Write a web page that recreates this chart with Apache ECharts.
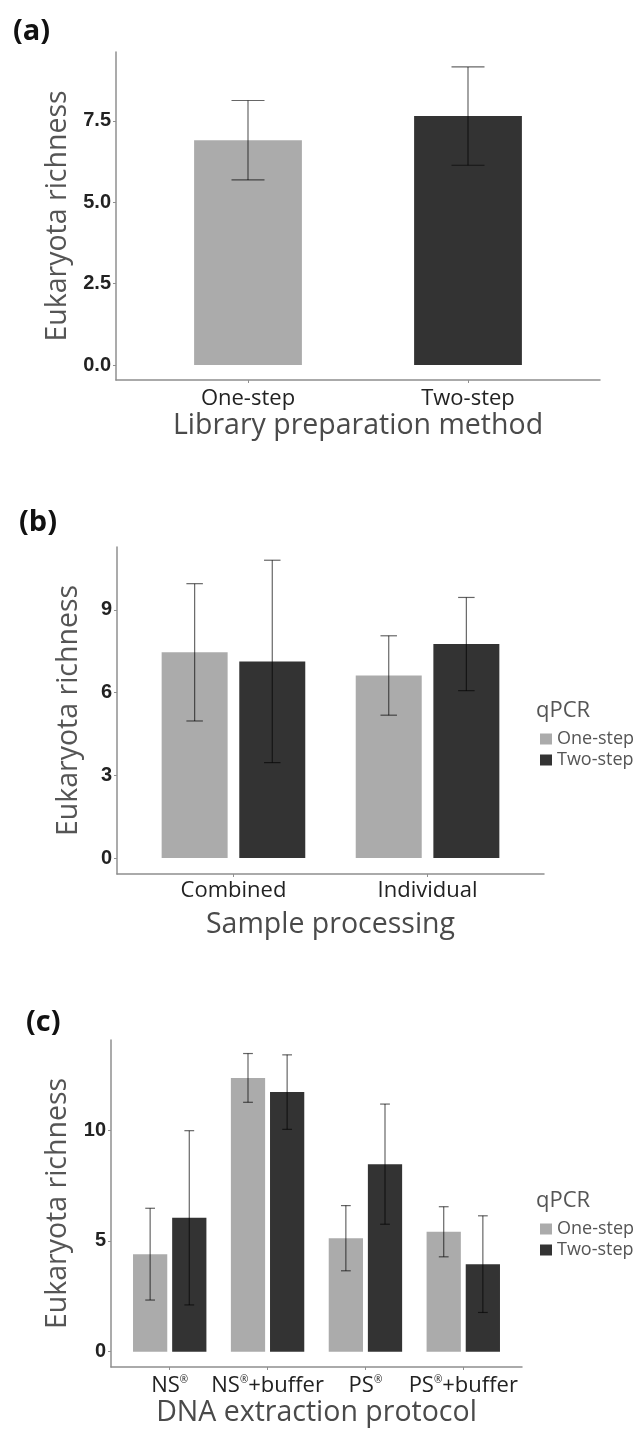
<!DOCTYPE html>
<html><head><meta charset="utf-8">
<script src="https://cdn.jsdelivr.net/npm/echarts@6/dist/echarts.min.js"></script>
<style>html,body{margin:0;padding:0;background:#fff}#c{width:637px;height:1430px}</style>
</head><body><div id="c"></div>
<script>
// ---- Panel (a): Library preparation method ----
const catsA = ['One-step', 'Two-step'];
const meanA = [6.91, 7.65];
const errA = [1.22, 1.51];
const yTicksA = [0, 2.5, 5, 7.5];
// ---- Panel (b): Sample processing ----
const catsB = ['Combined', 'Individual'];
const oneB = [7.46, 6.62];
const oneErrB = [2.49, 1.44];
const twoB = [7.13, 7.76];
const twoErrB = [3.67, 1.69];
const yTicksB = [0, 3, 6, 9];
// ---- Panel (c): DNA extraction protocol ----
const catsC = ['NS®', 'NS®+buffer', 'PS®', 'PS®+buffer'];
const oneC = [4.40, 12.35, 5.12, 5.41];
const oneErrC = [2.07, 1.10, 1.47, 1.13];
const twoC = [6.04, 11.71, 8.46, 3.95];
const twoErrC = [3.93, 1.68, 2.71, 2.18];
const yTicksC = [0, 5, 10];
const groupNames = ['One-step', 'Two-step'];

const LIGHT = '#ababab', DARK = '#333333';
const AXIS = '#8f8f8f';
const FONT = 'Open Sans';

function barRender(dodge, barW, capW) {
  return function (params, api) {
    const x = api.value(0) + dodge;
    const y = api.value(1), e = api.value(2);
    const b = api.coord([x, 0]);
    const t = api.coord([x, y]);
    const hi = api.coord([x, y + e]);
    const lo = api.coord([x, y - e]);
    const w = api.size([barW, 0])[0];
    const cw = api.size([capW, 0])[0];
    const st = { stroke: 'rgba(0,0,0,0.6)', lineWidth: 1.2 };
    return {
      type: 'group',
      children: [
        { type: 'rect', shape: { x: b[0] - w / 2, y: t[1], width: w, height: b[1] - t[1] }, style: { fill: api.visual('color') } },
        { type: 'line', shape: { x1: hi[0], y1: hi[1], x2: lo[0], y2: lo[1] }, style: st },
        { type: 'line', shape: { x1: hi[0] - cw / 2, y1: hi[1], x2: hi[0] + cw / 2, y2: hi[1] }, style: st },
        { type: 'line', shape: { x1: lo[0] - cw / 2, y1: lo[1], x2: lo[0] + cw / 2, y2: lo[1] }, style: st }
      ]
    };
  };
}

function toData(means, errs, startIdx) {
  return means.map((m, i) => [i + 1 + (startIdx || 0), m, errs[i]]);
}

function catFormatter(cats) {
  return function (v) {
    const s = cats[Math.round(v) - 1] || '';
    return s.split('®').join('{sup|®}');
  };
}

function xAxis(gi, cats, name, nameGap, margin) {
  const idx = cats.map((c, i) => i + 1);
  return {
    gridIndex: gi, type: 'value', min: 0.4, max: cats.length + 0.6,
    splitLine: { show: false },
    axisLine: { show: true, onZero: false, lineStyle: { color: AXIS, width: 1.5 } },
    axisTick: { show: true, customValues: idx, length: 3, lineStyle: { color: AXIS } },
    axisLabel: {
      customValues: idx, formatter: catFormatter(cats), margin: margin,
      fontFamily: FONT, fontSize: 22, color: '#222',
      rich: { sup: { fontFamily: FONT, fontSize: 10, color: '#222', verticalAlign: 'top', lineHeight: 22 } }
    },
    name: name, nameLocation: 'middle', nameGap: nameGap,
    nameTextStyle: { fontFamily: FONT, fontSize: 28.5, color: '#4a4a4a' }
  };
}

function yAxis(gi, min, max, ticks, fmt, nameGap) {
  return {
    gridIndex: gi, type: 'value', min: min, max: max,
    splitLine: { show: false },
    axisLine: { show: true, onZero: false, lineStyle: { color: AXIS, width: 1.5 } },
    axisTick: { show: true, customValues: ticks, length: 3, lineStyle: { color: AXIS } },
    axisLabel: {
      customValues: ticks, formatter: fmt, margin: 5,
      fontFamily: 'Liberation Sans', fontWeight: 'bold', fontSize: 20, color: '#222'
    },
    name: 'Eukaryota richness', nameLocation: 'middle', nameGap: nameGap,
    nameTextStyle: { fontFamily: FONT, fontSize: 28.5, color: '#555' }
  };
}

function legend(top) {
  return {
    data: groupNames, orient: 'vertical', left: 540, top: top, padding: 0,
    icon: 'rect', itemWidth: 12, itemHeight: 11, itemGap: 3,
    textStyle: { fontFamily: FONT, fontSize: 18, color: '#555', lineHeight: 14 }
  };
}

const labelStyle = { fontFamily: FONT, fontWeight: 'bold', fontSize: 29, color: '#111' };

const option = {
  animation: false,
  backgroundColor: '#fff',
  title: [
    { text: '(a)', left: 13, top: 17, padding: 0, textStyle: labelStyle },
    { text: '(b)', left: 19, top: 508, padding: 0, textStyle: labelStyle },
    { text: '(c)', left: 26, top: 1008, padding: 0, textStyle: labelStyle },
    { text: 'qPCR', left: 536, top: 700, padding: 0, textStyle: { fontFamily: FONT, fontWeight: 'normal', fontSize: 22, color: '#555' } },
    { text: 'qPCR', left: 536, top: 1190, padding: 0, textStyle: { fontFamily: FONT, fontWeight: 'normal', fontSize: 22, color: '#555' } }
  ],
  legend: [legend(730), legend(1220)],
  grid: [
    { left: 116, top: 52, width: 484, height: 328 },
    { left: 117, top: 547, width: 427, height: 327 },
    { left: 111, top: 1040, width: 411, height: 327 }
  ],
  xAxis: [
    xAxis(0, catsA, 'Library preparation method', 27, 8),
    xAxis(1, catsB, 'Sample processing', 36, 6),
    xAxis(2, catsC, 'DNA extraction protocol', 31, 8)
  ],
  yAxis: [
    yAxis(0, -0.46, 9.62, yTicksA, v => v.toFixed(1), 44),
    yAxis(1, -0.58, 11.28, yTicksB, v => String(v), 34),
    yAxis(2, -0.69, 14.06, yTicksC, v => String(v), 28)
  ],
  series: [
    { type: 'custom', name: groupNames[0], xAxisIndex: 0, yAxisIndex: 0, itemStyle: { color: LIGHT },
      renderItem: barRender(0, 0.49, 0.15), data: toData(meanA.slice(0, 1), errA.slice(0, 1), 0), encode: { x: 0, y: 1 } },
    { type: 'custom', name: groupNames[1], xAxisIndex: 0, yAxisIndex: 0, itemStyle: { color: DARK },
      renderItem: barRender(0, 0.49, 0.15), data: toData(meanA.slice(1, 2), errA.slice(1, 2), 1), encode: { x: 0, y: 1 } },
    { type: 'custom', name: groupNames[0], xAxisIndex: 1, yAxisIndex: 1, itemStyle: { color: LIGHT },
      renderItem: barRender(-0.2, 0.34, 0.085), data: toData(oneB, oneErrB), encode: { x: 0, y: 1 } },
    { type: 'custom', name: groupNames[1], xAxisIndex: 1, yAxisIndex: 1, itemStyle: { color: DARK },
      renderItem: barRender(0.2, 0.34, 0.085), data: toData(twoB, twoErrB), encode: { x: 0, y: 1 } },
    { type: 'custom', name: groupNames[0], xAxisIndex: 2, yAxisIndex: 2, itemStyle: { color: LIGHT },
      renderItem: barRender(-0.2, 0.35, 0.1), data: toData(oneC, oneErrC), encode: { x: 0, y: 1 } },
    { type: 'custom', name: groupNames[1], xAxisIndex: 2, yAxisIndex: 2, itemStyle: { color: DARK },
      renderItem: barRender(0.2, 0.35, 0.1), data: toData(twoC, twoErrC), encode: { x: 0, y: 1 } }
  ]
};

const chart = echarts.init(document.getElementById('c'), null, { renderer: 'canvas' });
chart.setOption(option);
</script>
</body></html>
